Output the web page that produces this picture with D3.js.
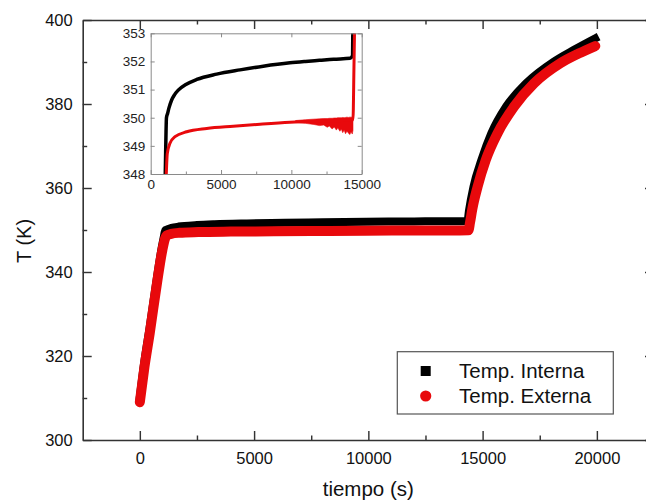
<!DOCTYPE html>
<html>
<head>
<meta charset="utf-8">
<script src="https://cdn.jsdelivr.net/npm/d3@7"></script>
<style>
  html, body { margin: 0; padding: 0; background: #fff; }
  svg { display: block; font-family: "Liberation Sans", Arial, sans-serif; }
</style>
</head>
<body>
<svg id="chart" width="646" height="502"></svg>
<script>
// Internal temperature (black squares): time in s, temperature in K
const timeInt = [0, 200, 435, 752, 950, 1050, 1090, 1120, 1200, 1300, 1490, 1700, 1960, 2500, 3270,
  4690, 6350, 8000, 9900, 11000, 12000, 13000, 14170, 14340, 14400, 14600, 14950, 15380, 16030,
  16900, 18120, 19000, 19920];
const tempInt = [310.3, 318.8, 327.0, 338.8, 345.6, 348.4, 349.5, 350.0, 350.15, 350.35, 350.63,
  350.82, 350.98, 351.18, 351.36, 351.55, 351.7, 351.83, 351.95, 352.0, 352.04, 352.08, 352.11,
  352.2, 354.5, 360.3, 366.7, 373.0, 379.4, 384.9, 390.1, 392.9, 395.6];

// External temperature (red circles)
const timeExt = [0, 200, 435, 752, 985, 1100, 1140, 1180, 1370, 1730, 2560, 3980, 5870, 7770, 9900,
  11090, 12500, 14000, 14380, 14450, 14550, 14780, 15140, 15650, 16380, 17250, 18400, 19200, 19930];
const tempExt = [309.0, 317.3, 325.5, 337.4, 345.2, 347.9, 348.4, 348.73, 349.09, 349.33, 349.5, 349.62,
  349.7, 349.77, 349.84, 349.87, 349.89, 349.91, 349.93, 351.8, 355.0, 360.3, 366.7, 373.0, 379.4,
  384.9, 389.7, 392.0, 393.8];

// Scatter envelope of the external reading near the end of the plateau
const noiseTime = [10300, 11000, 11600, 12000, 12300, 12550, 12700, 12900, 13050, 13200, 13300, 13450,
  13550, 13650, 13750, 13850, 13950, 14050, 14150, 14250, 14330, 14380];
const noiseLow = [349.84, 349.8, 349.76, 349.72, 349.74, 349.66, 349.71, 349.6, 349.67, 349.56, 349.64,
  349.52, 349.6, 349.47, 349.56, 349.43, 349.52, 349.46, 349.4, 349.5, 349.42, 349.55];
const noiseHigh = [349.9, 349.93, 349.95, 349.96, 349.97, 349.97, 349.98, 349.98, 349.99, 349.99, 350.0,
  350.0, 350.0, 350.01, 350.0, 350.01, 350.02, 350.01, 350.02, 350.02, 350.02, 350.02];

// Tick values
const xTicks = [0, 5000, 10000, 15000, 20000];
const xMinor = [2500, 7500, 12500, 17500];
const yTicks = [300, 320, 340, 360, 380, 400];
const yMinor = [310, 330, 350, 370, 390];
const insetXTicks = [0, 5000, 10000, 15000];
const insetXMinor = [2500, 7500, 12500];
const insetYTicks = [348, 349, 350, 351, 352, 353];

const seriesNames = ["Temp. Interna", "Temp. Externa"];

const svg = d3.select("#chart");
const AX = "#333";
const RED = "#e8090c";

const x = d3.scaleLinear().domain([-2500, 22500]).range([82.7, 654]);
const y = d3.scaleLinear().domain([300, 400]).range([440, 20]);

const interna = d3.zip(timeInt, tempInt);
const externa = d3.zip(timeExt, tempExt);

function styleAxis(g, fontSize, color, width) {
  g.select(".domain").attr("stroke", color).attr("stroke-width", width);
  g.selectAll(".tick line").attr("stroke", color).attr("stroke-width", width * 0.9);
  g.selectAll(".tick text").attr("fill", "#111").style("font-size", fontSize + "px")
    .style("font-family", '"Liberation Sans", Arial, sans-serif');
}

// ---- main axes (ticks point inward on all four sides) ----
function mainAxis(axisFn, scale, translate, values, size, labelled) {
  const a = axisFn(scale).tickValues(values).tickSizeInner(-size).tickSizeOuter(0);
  if (labelled) a.tickFormat(d3.format("d")); else a.tickFormat("");
  const g = svg.append("g").attr("transform", translate).call(a);
  return g;
}
const gB = mainAxis(d3.axisBottom, x, "translate(0,440)", xTicks, 9, true);
gB.call(g => g.selectAll(".tick text").attr("y", 12));
gB.select(".domain"); styleAxis(gB, 16.5, AX, 1.6);
const gBm = mainAxis(d3.axisBottom, x, "translate(0,440)", xMinor, 4.5, false);
gBm.select(".domain").remove(); styleAxis(gBm, 16.5, AX, 1.6);

const gT = mainAxis(d3.axisTop, x, "translate(0,20)", xTicks, 9, false); styleAxis(gT, 16.5, AX, 1.6);
const gTm = mainAxis(d3.axisTop, x, "translate(0,20)", xMinor, 4.5, false);
gTm.select(".domain").remove(); styleAxis(gTm, 16.5, AX, 1.6);

const gL = mainAxis(d3.axisLeft, y, "translate(82.7,0)", yTicks, 9, true);
gL.call(g => g.selectAll(".tick text").attr("x", -10));
styleAxis(gL, 16.5, AX, 1.6);
const gLm = mainAxis(d3.axisLeft, y, "translate(82.7,0)", yMinor, 4.5, false);
gLm.select(".domain").remove(); styleAxis(gLm, 16.5, AX, 1.6);

const gR = mainAxis(d3.axisRight, y, "translate(654,0)", yTicks, 9, false); styleAxis(gR, 16.5, AX, 1.6);
const gRm = mainAxis(d3.axisRight, y, "translate(654,0)", yMinor, 4.5, false);
gRm.select(".domain").remove(); styleAxis(gRm, 16.5, AX, 1.6);

// axis titles
svg.append("text").attr("x", 368.3).attr("y", 495.5).attr("text-anchor", "middle")
  .attr("fill", "#111").style("font-size", "20.5px").text("tiempo (s)");
svg.append("text").attr("transform", "translate(31,241) rotate(-90)").attr("text-anchor", "middle")
  .attr("fill", "#111").style("font-size", "20px").text("T (K)");

// ---- main curves (dense markers drawn as thick strokes) ----
const mainLine = d3.line().x(d => x(d[0])).y(d => y(d[1])).curve(d3.curveMonotoneX);
svg.append("path").datum(interna).attr("d", mainLine)
  .attr("fill", "none").attr("stroke", "#000").attr("stroke-width", 8)
  .attr("stroke-linecap", "square").attr("stroke-linejoin", "round");
svg.append("path").datum(externa).attr("d", mainLine)
  .attr("fill", "none").attr("stroke", RED).attr("stroke-width", 10)
  .attr("stroke-linecap", "round").attr("stroke-linejoin", "round");

// ---- inset: close-up of the plateau ----
const xi = d3.scaleLinear().domain([0, 15000]).range([150.7, 361.7]);
const yi = d3.scaleLinear().domain([348, 353]).range([174, 33.3]);
const IN = "#8a8a8a";

const inset = svg.append("g");
inset.append("rect").attr("x", xi(0)).attr("y", yi(353)).attr("width", xi(15000) - xi(0))
  .attr("height", yi(348) - yi(353)).attr("fill", "#fff");
svg.append("defs").append("clipPath").attr("id", "insetClip").append("rect")
  .attr("x", xi(0)).attr("y", yi(353)).attr("width", xi(15000) - xi(0)).attr("height", yi(348) - yi(353));

const plot = inset.append("g").attr("clip-path", "url(#insetClip)");
const insetLine = d3.line().x(d => xi(d[0])).y(d => yi(d[1])).curve(d3.curveMonotoneX);
plot.append("path").datum(interna).attr("d", insetLine).attr("fill", "none")
  .attr("stroke", "#000").attr("stroke-width", 3.5).attr("stroke-linejoin", "round");
const noiseArea = d3.area().x(d => xi(d[0])).y0(d => yi(d[1])).y1(d => yi(d[2])).curve(d3.curveLinear);
plot.append("path").datum(d3.zip(noiseTime, noiseLow, noiseHigh)).attr("d", noiseArea)
  .attr("fill", RED).attr("stroke", RED).attr("stroke-width", 0.6);
plot.append("path").datum(externa).attr("d", insetLine).attr("fill", "none")
  .attr("stroke", RED).attr("stroke-width", 3).attr("stroke-linejoin", "round");

function insetAxis(g, color) {
  g.select(".domain").attr("stroke", color).attr("stroke-width", 1);
  g.selectAll(".tick line").attr("stroke", color).attr("stroke-width", 1);
  g.selectAll(".tick text").attr("fill", "#222").style("font-size", "13.5px")
    .style("font-family", '"Liberation Sans", Arial, sans-serif');
}
const iB = inset.append("g").attr("transform", `translate(0,${yi(348)})`)
  .call(d3.axisBottom(xi).tickValues(insetXTicks).tickSizeInner(-4).tickSizeOuter(0).tickPadding(5.5)
    .tickFormat(d3.format("d")));
insetAxis(iB, IN);
const iBm = inset.append("g").attr("transform", `translate(0,${yi(348)})`)
  .call(d3.axisBottom(xi).tickValues(insetXMinor).tickSizeInner(-2.5).tickSizeOuter(0).tickFormat(""));
iBm.select(".domain").remove(); insetAxis(iBm, IN);
const iT = inset.append("g").attr("transform", `translate(0,${yi(353)})`)
  .call(d3.axisTop(xi).tickValues(insetXTicks).tickSizeInner(-4).tickSizeOuter(0).tickFormat(""));
insetAxis(iT, IN);
const iL = inset.append("g").attr("transform", `translate(${xi(0)},0)`)
  .call(d3.axisLeft(yi).tickValues(insetYTicks).tickSizeInner(-4).tickSizeOuter(0).tickPadding(5.5)
    .tickFormat(d3.format("d")));
insetAxis(iL, IN);
const iR = inset.append("g").attr("transform", `translate(${xi(15000)},0)`)
  .call(d3.axisRight(yi).tickValues(insetYTicks).tickSizeInner(-4).tickSizeOuter(0).tickFormat(""));
insetAxis(iR, IN);

// ---- legend ----
const leg = svg.append("g");
leg.append("rect").attr("x", 397.3).attr("y", 351.7).attr("width", 216).attr("height", 62.3)
  .attr("fill", "#fff").attr("stroke", "#555").attr("stroke-width", 1.2);
leg.append("rect").attr("x", 420.7).attr("y", 366).attr("width", 10).attr("height", 10).attr("fill", "#000");
leg.append("circle").attr("cx", 425.7).attr("cy", 396).attr("r", 5.6).attr("fill", RED);
leg.selectAll("text.lg").data(seriesNames).enter().append("text").attr("class", "lg")
  .attr("x", 459).attr("y", (d, i) => 377.8 + i * 25.5).attr("fill", "#111")
  .style("font-size", "20.5px").text(d => d);
</script>
</body>
</html>
